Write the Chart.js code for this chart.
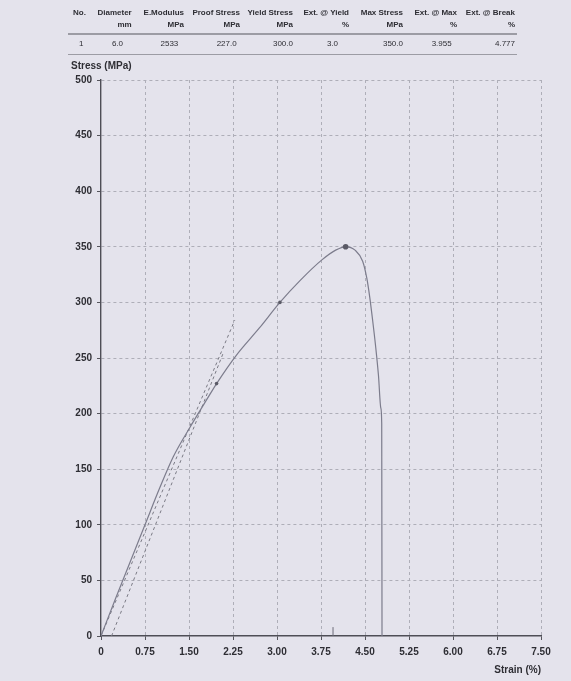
<!DOCTYPE html>
<html>
<head>
<meta charset="utf-8">
<script src="https://cdn.jsdelivr.net/npm/chart.js@4.4.1/dist/chart.umd.min.js"></script>
<style>
  html, body { margin: 0; padding: 0; background: #e4e3ec; }
  #wrap { position: relative; width: 571px; height: 681px; overflow: hidden; font-family: "Liberation Sans", Arial, sans-serif; color: #2e2e34; }
  #chart { position: absolute; left: 0; top: 0; }
  .cell { position: absolute; font-size: 8px; white-space: nowrap; line-height: 10px; }
  .hd { font-weight: bold; }
  .rule { position: absolute; left: 68px; width: 449px; background: #9c9ca4; }
  .axis-title { position: absolute; font-size: 10px; font-weight: bold; line-height: 12px; white-space: nowrap; }
</style>
</head>
<body>
<div id="wrap">
  <canvas id="chart" width="571" height="681"></canvas>
  <div id="table"></div>
  <div class="axis-title" style="left:71px; top:60px;">Stress (MPa)</div>
  <div class="axis-title" style="right:30px; top:664px;">Strain (%)</div>
</div>
<script>
// Result table
const colHeads = ['No.', 'Diameter', 'E.Modulus', 'Proof Stress', 'Yield Stress', 'Ext. @ Yield', 'Max Stress', 'Ext. @ Max', 'Ext. @ Break'];
const colUnits = ['', 'mm', 'MPa', 'MPa', 'MPa', '%', 'MPa', '%', '%'];
const resultRow = ['1', '6.0', '2533', '227.0', '300.0', '3.0', '350.0', '3.955', '4.777'];

// Stress-strain curve
const strain = [0, 0.25, 0.5, 0.75, 1.0, 1.23, 1.52, 1.83, 1.97, 2.3, 2.7, 3.05, 3.4, 3.76, 4.0, 4.17, 4.33, 4.46, 4.53, 4.58, 4.63, 4.68, 4.73, 4.77, 4.785, 4.79];
const stress = [0, 34, 67, 100, 133, 161, 188, 215, 227, 252, 277, 300, 320, 338, 347, 350, 347, 337, 322, 305, 284, 261, 234, 205, 191, 0];

// Result markers (proof, yield, max)
const markStrain = [1.97, 3.05, 4.17];
const markStress = [227, 300, 350];

// Modulus / offset construction lines
const modLineStrain = [0.0, 2.28];
const modLineStress = [0, 284];
const offsetLineStrain = [0.18, 2.08];
const offsetLineStress = [0, 254];

// Ext @ max marker on the axis
const extMaxStrain = [3.955, 3.955];
const extMaxStress = [0, 8];

// Axis ticks
const strainTicks = [0, 0.75, 1.5, 2.25, 3.0, 3.75, 4.5, 5.25, 6.0, 6.75, 7.5];
const strainTickLabels = ['0', '0.75', '1.50', '2.25', '3.00', '3.75', '4.50', '5.25', '6.00', '6.75', '7.50'];

// build table
const headRight = [null, 131.7, 184, 240, 293, 349, 403, 457, 515];
const dataRight = [null, 123, 178.3, 236.7, 293, 338, 403, 451.7, 515];
const table = document.getElementById('table');
function addCell(text, cls, top, right, left) {
    const d = document.createElement('div');
    d.className = 'cell ' + cls;
    d.textContent = text;
    d.style.top = top + 'px';
    if (left != null) d.style.left = left + 'px';
    else d.style.right = (571 - right) + 'px';
    table.appendChild(d);
}
colHeads.forEach((h, i) => {
    if (i === 0) addCell(h, 'hd', 8, null, 73);
    else addCell(h, 'hd', 8, headRight[i]);
    if (colUnits[i]) addCell(colUnits[i], 'hd', 20, headRight[i]);
});
resultRow.forEach((v, i) => {
    if (i === 0) addCell(v, '', 39, null, 79);
    else addCell(v, '', 39, dataRight[i]);
});
[[33, 1.5], [53.5, 1]].forEach(([y, h]) => {
    const r = document.createElement('div');
    r.className = 'rule';
    r.style.top = y + 'px';
    r.style.height = h + 'px';
    table.appendChild(r);
});

const pts = (xs, ys) => xs.map((x, i) => ({ x: x, y: ys[i] }));

// skip the grid line that sits on the axis itself
const gridColor = ctx => ctx.index === 0 ? 'rgba(0,0,0,0)' : '#aeaeb8';

Chart.defaults.font.family = '"Liberation Sans", Arial, sans-serif';
Chart.defaults.color = '#2e2e34';

new Chart(document.getElementById('chart'), {
    type: 'scatter',
    data: {
        datasets: [
            {
                data: pts(strain, stress),
                showLine: true,
                borderColor: '#7c7c8c',
                borderWidth: 1.2,
                pointRadius: 0,
                cubicInterpolationMode: 'monotone',
                order: 2
            },
            {
                data: pts(markStrain, markStress),
                showLine: false,
                pointRadius: [1.8, 1.8, 2.8],
                backgroundColor: '#5a5a66',
                borderWidth: 0,
                order: 1
            },
            {
                data: pts(modLineStrain, modLineStress),
                showLine: true,
                borderColor: '#7a7a84',
                borderWidth: 1,
                borderDash: [3, 3],
                pointRadius: 0,
                order: 3
            },
            {
                data: pts(offsetLineStrain, offsetLineStress),
                showLine: true,
                borderColor: '#7a7a84',
                borderWidth: 1,
                borderDash: [3, 3],
                pointRadius: 0,
                order: 3
            },
            {
                data: pts(extMaxStrain, extMaxStress),
                showLine: true,
                borderColor: '#6c6c78',
                borderWidth: 1,
                pointRadius: 0,
                order: 3
            }
        ]
    },
    options: {
        responsive: false,
        animation: false,
        layout: { padding: { left: 0, right: 30, top: 80, bottom: 0 } },
        plugins: {
            legend: { display: false },
            tooltip: { enabled: false }
        },
        scales: {
            x: {
                type: 'linear',
                min: 0,
                max: 7.5,
                afterBuildTicks: function (scale) {
                    scale.ticks = strainTicks.map(v => ({ value: v }));
                },
                afterFit: function (scale) { scale.height = 45; },
                ticks: {
                    padding: 6,
                    maxRotation: 0,
                    autoSkip: false,
                    font: { size: 10, weight: 'bold' },
                    callback: function (value, index) { return strainTickLabels[index]; }
                },
                grid: {
                    color: gridColor,
                    tickColor: '#55555c',
                    tickLength: 4,
                    tickBorderDash: []
                },
                border: { display: true, color: '#4e4e56', width: 1.4, dash: [3, 3] }
            },
            y: {
                type: 'linear',
                min: 0,
                max: 500,
                afterFit: function (scale) { scale.width = 101; },
                ticks: {
                    stepSize: 50,
                    padding: 5,
                    font: { size: 10, weight: 'bold' }
                },
                grid: {
                    color: gridColor,
                    tickColor: '#55555c',
                    tickLength: 4,
                    tickBorderDash: []
                },
                border: { display: true, color: '#4e4e56', width: 1.4, dash: [3, 3] }
            }
        }
    }
});
</script>
</body>
</html>
